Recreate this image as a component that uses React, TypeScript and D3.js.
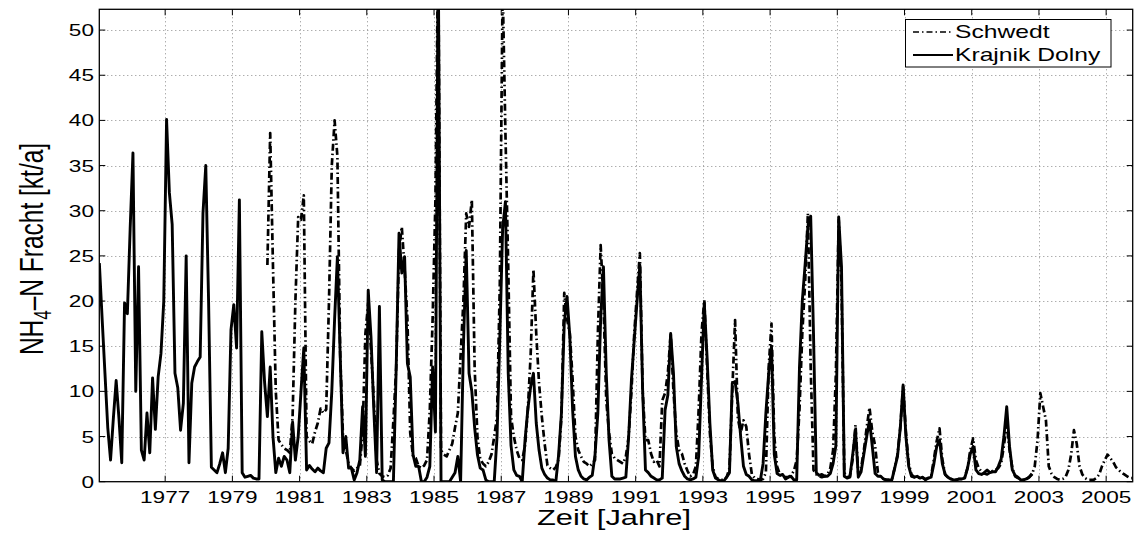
import React from 'react';
import * as d3 from 'd3';

// Monthly loads [kt/a]; month index 0 = Jan 1975
const START_YEAR = 1975;

const krajnikStart = 0; // Jan 1975
const krajnikDolny: number[] = [
  // 1975
  24.2, 18, 12, 6, 2.4, 7, 11.2, 7, 2.1, 19.8, 18.6, 28,
  // 1976
  36.4, 10, 23.8, 3.5, 2.4, 7.6, 3.2, 11.5, 5.8, 11.6, 14.2, 20,
  // 1977
  40.1, 32, 28.5, 12, 10.4, 5.7, 8.7, 25, 2.1, 10.9, 12.7, 13.3,
  // 1978
  13.8, 29.7, 35, 20, 1.6, 1.3, 1.0, 2, 3.2, 1.0, 3.7, 16.8,
  // 1979
  19.6, 14.8, 31.2, 1.0, 0.5, 0.6, 0.7, 0.4, 0.3, 0.3, 16.6, 11,
  // 1980
  7.2, 12.7, 5, 1.0, 2.6, 1.7, 2.8, 2.4, 1.0, 6.6, 2.4, 5,
  // 1981
  10, 14.8, 1.3, 1.8, 1.4, 1.1, 1.5, 1.2, 1.0, 3.7, 4.3, 10,
  // 1982
  18, 24.9, 14, 3.2, 5, 1.5, 1.5, 0.2, 1, 2.4, 8.3, 2.8,
  // 1983
  21.2, 16, 8, 1.0, 19.4, 0.2, 0, 0, 0, 0, 12.7, 27.5,
  // 1984
  23.1, 24.9, 13.1, 11.6, 3, 1.7, 1.7, 0, 0, 0.5, 1.7, 12.7,
  // 1985
  5.5, 60, 0, 0, 0, 0, 0.5, 1, 2.8, 0, 15, 25.6,
  // 1986
  12, 10, 6, 3, 1.5, 1.3, 0.2, 0, 0, 0, 5, 16,
  // 1987
  28, 31, 12, 4, 1.3, 0.7, 0.6, 0, 4.6, 8, 10.5, 12,
  // 1988
  6.5, 3.5, 1.5, 0.8, 0.4, 0.2, 0.2, 0, 3, 7.6, 17.5, 20.5,
  // 1989
  16, 7.9, 2.8, 1.3, 0.6, 0.3, 0.2, 0.5, 0.7, 3, 7.6, 18,
  // 1990
  23.8, 12, 4.6, 0.6, 0.3, 0.3, 0.3, 0.4, 0.5, 5, 11.3, 15.7,
  // 1991
  20, 24, 10, 1.3, 1.0, 0.6, 0.4, 0.2, 0.2, 0.4, 7.9, 9.6,
  // 1992
  16.4, 12, 3.9, 2.0, 1.2, 0.6, 0.3, 0.2, 0.3, 0.5, 2.8, 11.3,
  // 1993
  19.8, 13.8, 6.5, 1.3, 0.4, 0.2, 0.1, 0.1, 0.5, 1.0, 10.9, 11.1,
  // 1994
  8.7, 5, 1.7, 0.8, 0.6, 0.2, 0.1, 0.1, 0.1, 2, 7.6, 12,
  // 1995
  15, 3, 0.9, 0.7, 0.8, 0.3, 0.5, 0.6, 0.2, 0.2, 12.7, 20,
  // 1996
  24, 28.2, 29.4, 16.4, 1.0, 0.7, 0.8, 0.6, 0.6, 0.9, 2, 4,
  // 1997
  29.3, 23.8, 0.6, 0.4, 0.5, 3, 5.7, 0.5, 1.1, 3.1, 5, 6.8,
  // 1998
  3.9, 0.9, 0.6, 0.6, 0.3, 0.2, 0.2, 0.2, 1.5, 2.8, 6, 10.7,
  // 1999
  5, 1.7, 0.6, 0.5, 0.6, 0.4, 0.5, 0.2, 0.4, 0.5, 2, 3.9,
  // 2000
  4.6, 2.0, 0.8, 0.5, 0.3, 0.2, 0.2, 0.3, 0.3, 0.4, 1.5, 3.1,
  // 2001
  3.9, 1.3, 0.9, 0.8, 1.0, 1.3, 1.0, 1.1, 1.1, 1.7, 2.5, 5,
  // 2002
  8.3, 3.9, 1.3, 0.7, 0.5, 0.2, 0.2, 0.3, 0.5, 0.9,
];

const schwedtStart = 60; // Jan 1980
const schwedt: number[] = [
  // 1980
  24, 38.6, 23.8, 10, 4.6, 4.1, 3.7, 3.5, 3.2, 7.2, 20, 29.3,
  // 1981
  29, 31.7, 5, 4.5, 4.2, 5.5, 6.5, 8.1, 7.6, 8, 20, 35,
  // 1982
  40, 36, 14, 5, 3.5, 2, 1.5, 1.2, 1.5, 1.7, 5.4, 16.4,
  // 1983
  19.8, 14.6, 9, 2.4, 0.9, 0.6, 0.5, 0.7, 1.5, 6.8, 12.7, 25.6,
  // 1984
  28.2, 23.5, 18, 5.4, 2.8, 2.6, 1.7, 1.5, 1.8, 2.4, 8, 18,
  // 1985
  31.2, 60, 3.5, 3.0, 2.8, 3.5, 4.2, 6, 7.6, 14, 20.1, 29.7,
  // 1986
  28.2, 31.2, 12.7, 5, 2.5, 2.0, 1.7, 2.2, 3, 5, 7.2, 22,
  // 1987
  55, 38.6, 23.8, 7.2, 5, 3.5, 2.6, 2.4, 4, 8, 14, 23.5,
  // 1988
  16.4, 10.9, 7.2, 4.2, 1.8, 1.5, 1.3, 1.6, 2.5, 7.2, 20.9, 18,
  // 1989
  16.4, 11.3, 5, 3.5, 2.8, 2.2, 2, 1.7, 2, 2.4, 16.4, 26.2,
  // 1990
  20, 9, 5.4, 3.1, 2.6, 2.4, 2.2, 2, 2.8, 5, 10, 16.4,
  // 1991
  21, 25.3, 10, 4.6, 4.6, 3.1, 2.2, 2.4, 1.7, 9, 9.8, 12,
  // 1992
  16.4, 10, 5.4, 3.5, 3.1, 2, 1.2, 0.6, 0.8, 1.7, 8, 16.4,
  // 1993
  20.1, 12.7, 5.4, 1.7, 0.5, 0.3, 0.2, 0.2, 0.5, 1.5, 10, 17.9,
  // 1994
  7, 5.4, 6.8, 6.1, 3, 0.8, 0.4, 0.3, 0.2, 0.3, 1, 12.7,
  // 1995
  17.5, 5, 1.7, 0.8, 0.6, 0.5, 0.5, 0.7, 1.2, 2.4, 8, 16.4,
  // 1996
  22, 29.7, 12.7, 1.3, 0.8, 0.6, 0.5, 0.6, 0.8, 1.5, 3.5, 12,
  // 1997
  29, 22, 1.0, 0.5, 0.6, 2.5, 6.3, 0.8, 1.5, 3.5, 6, 8.2,
  // 1998
  5.5, 4, 1.0, 0.5, 0.3, 0.2, 0.2, 0.3, 1.5, 3, 6, 10.5,
  // 1999
  5.5, 2, 0.8, 0.5, 0.5, 0.4, 0.4, 0.3, 0.4, 0.6, 2.5, 4.5,
  // 2000
  5.9, 2.5, 0.8, 0.5, 0.3, 0.2, 0.2, 0.3, 0.3, 0.5, 1.5, 3.5,
  // 2001
  4.8, 2.4, 1.5, 1.1, 0.9, 0.8, 1.0, 1.2, 1.3, 1.5, 2, 4,
  // 2002
  6.5, 3.5, 1.5, 0.6, 0.4, 0.3, 0.2, 0.3, 0.5, 0.8, 1.7, 4.6,
  // 2003
  9.8, 8.3, 6.8, 1.7, 0.9, 0.5, 0.3, 0.2, 0.3, 0.5, 1.3, 3,
  // 2004
  5.7, 4.2, 1.7, 0.8, 0.4, 0.2, 0.2, 0.2, 0.4, 0.8, 1.7, 2.4,
  // 2005
  3.0, 2.6, 2.2, 1.6, 1.3, 1.0, 0.8, 0.6, 0.4, 0.4,
];

const xTickYears = [1977, 1979, 1981, 1983, 1985, 1987, 1989, 1991, 1993, 1995, 1997, 1999, 2001, 2003, 2005];
const yTickValues = [0, 5, 10, 15, 20, 25, 30, 35, 40, 45, 50];
const seriesNames = ['Schwedt', 'Krajnik Dolny'];

const W = 1138;
const H = 536;
const L = 99.3, R = 1132.7, T = 9.3, B = 481.7;
const SX = 1.37; // horizontal stretch of the text in the reference

const x = d3.scaleLinear().domain([1975.04, 2005.79]).range([L, R]);
const y = d3.scaleLinear().domain([0, 52.3]).range([B, T]);

const monthTime = (i: number) => START_YEAR + (i + 0.5) / 12;
const toPoints = (vals: number[], start: number): [number, number][] =>
  vals.map((v, k) => [monthTime(start + k), v]);

const line = d3.line<[number, number]>().x(d => x(d[0])).y(d => y(d[1]));

const FONT = 'Liberation Sans, Arial, Helvetica, sans-serif';

function SText(props: { x: number; y: number; size: number; anchor?: string; rotate?: number; children: React.ReactNode }) {
  const { x: tx, y: ty, size, anchor = 'start', rotate = 0, children } = props;
  return (
    <text
      transform={`translate(${tx},${ty}) scale(${SX},1)${rotate ? ` rotate(${rotate})` : ''}`}
      fontSize={size}
      fontFamily={FONT}
      textAnchor={anchor as any}
      fill="#000"
    >
      {children}
    </text>
  );
}

export default function App() {
  const kPath = line(toPoints(krajnikDolny, krajnikStart)) || '';
  const sPath = line(toPoints(schwedt, schwedtStart)) || '';
  const dashDot = '7,3,1.5,3';
  const tickLen = 6;

  return (
    <svg width={W} height={H} style={{ position: 'absolute', left: 0, top: 0, background: '#fff' }}>
      <defs>
        <clipPath id="plotClip">
          <rect x={L} y={T} width={R - L} height={B - T} />
        </clipPath>
      </defs>
      <rect x={0} y={0} width={W} height={H} fill="#fff" />

      {/* grid */}
      <g stroke="#8c8c8c" strokeWidth={1} strokeDasharray="1,3">
        {yTickValues.slice(1).map(v => (
          <line key={'gy' + v} x1={L} x2={R} y1={Math.round(y(v)) + 0.5} y2={Math.round(y(v)) + 0.5} />
        ))}
        {xTickYears.map(t => (
          <line key={'gx' + t} x1={Math.round(x(t)) + 0.5} x2={Math.round(x(t)) + 0.5} y1={T} y2={B} />
        ))}
      </g>

      {/* data */}
      <g clipPath="url(#plotClip)" fill="none" strokeLinejoin="round">
        <path d={sPath} stroke="#000" strokeWidth={2.7} strokeDasharray={dashDot} />
        <path d={kPath} stroke="#000" strokeWidth={2.9} />
      </g>

      {/* ticks */}
      <g stroke="#000" strokeWidth={1}>
        {yTickValues.map(v => (
          <g key={'ty' + v}>
            <line x1={L} x2={L + tickLen} y1={y(v)} y2={y(v)} />
            <line x1={R} x2={R - tickLen} y1={y(v)} y2={y(v)} />
          </g>
        ))}
        {xTickYears.map(t => (
          <g key={'tx' + t}>
            <line x1={x(t)} x2={x(t)} y1={B} y2={B - tickLen} />
            <line x1={x(t)} x2={x(t)} y1={T} y2={T + tickLen} />
          </g>
        ))}
      </g>

      {/* frame */}
      <rect x={L} y={T} width={R - L} height={B - T} fill="none" stroke="#000" strokeWidth={1.3} />

      {/* tick labels */}
      {yTickValues.map(v => (
        <SText key={'ly' + v} x={94} y={y(v) + 6} size={16.5} anchor="end">{v}</SText>
      ))}
      {xTickYears.map(t => (
        <SText key={'lx' + t} x={x(t)} y={503} size={16.5} anchor="middle">{t}</SText>
      ))}

      {/* axis labels */}
      <SText x={614} y={525} size={22.5} anchor="middle">Zeit [Jahre]</SText>
      <SText x={43} y={249} size={24.5} anchor="middle" rotate={-90}>
        NH<tspan fontSize={17} dy={6}>4</tspan><tspan dy={-6}>–N Fracht [kt/a]</tspan>
      </SText>

      {/* legend */}
      <rect x={905.5} y={19.5} width={205.5} height={47.5} fill="#fff" stroke="#000" strokeWidth={1} />
      <line x1={913} x2={953} y1={32} y2={32} stroke="#000" strokeWidth={1.5} strokeDasharray="6,3,1.5,3" />
      <line x1={913} x2={953} y1={55} y2={55} stroke="#000" strokeWidth={2} />
      <SText x={955} y={38} size={18}>{seriesNames[0]}</SText>
      <SText x={955} y={61} size={18}>{seriesNames[1]}</SText>
    </svg>
  );
}
